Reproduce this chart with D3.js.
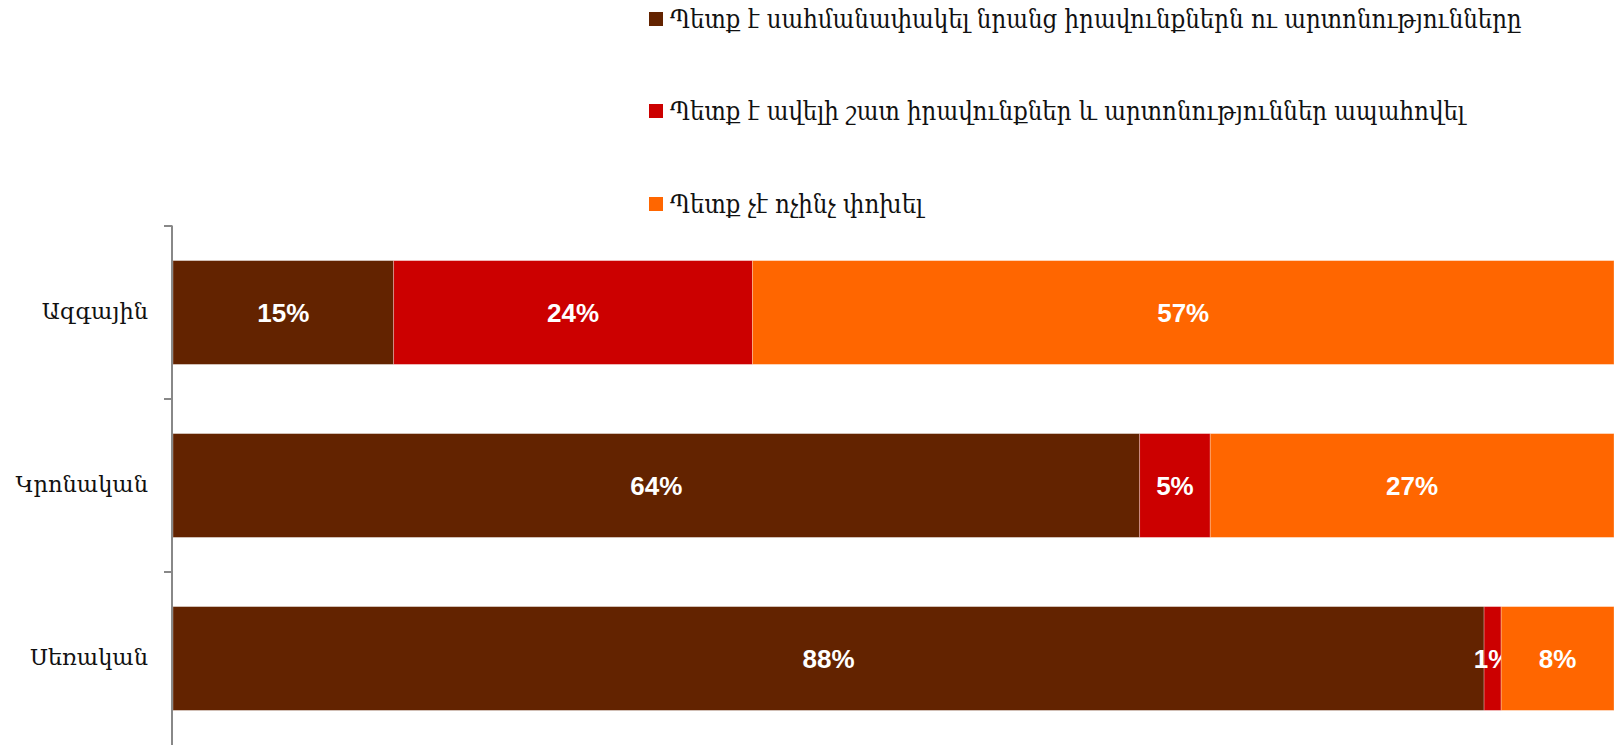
<!DOCTYPE html>
<html><head><meta charset="utf-8">
<script src="https://cdn.jsdelivr.net/npm/d3@7"></script>
<style>body{margin:0;background:#fff}svg{display:block}</style>
</head><body>
<svg id="c" width="1619" height="745"></svg>
<script>
const categories = ["Ազգային", "Կրոնական", "Սեռական"];
const seriesNames = [
  "Պետք է սահմանափակել նրանց իրավունքներն ու արտոնությունները",
  "Պետք է ավելի շատ իրավունքներ և արտոնություններ ապահովել",
  "Պետք չէ ոչինչ փոխել"
];
const restrict = [14.7, 64.4, 88.3];
const moreRights = [23.9, 4.7, 1.15];
const noChange = [57.4, 26.9, 7.6];
const colors = ["#632300", "#CC0000", "#FF6600"];

const svg = d3.select("#c");
const fmt = d3.format(".0f");
const rows = categories.map((c, i) => ({cat: c, s0: restrict[i], s1: moreRights[i], s2: noChange[i]}));
const keys = ["s0", "s1", "s2"];
const stack = d3.stack().keys(keys).offset(d3.stackOffsetExpand)(rows);

const x = d3.scaleLinear().domain([0, 1]).range([173, 1614]);
const y = d3.scaleBand().domain(categories).range([226, 745]).paddingInner(0.4).paddingOuter(0.2);

// bars
stack.forEach((layer, li) => {
  const g = svg.append("g");
  g.selectAll("rect").data(layer).join("rect")
    .attr("x", d => x(d[0]))
    .attr("y", d => y(d.data.cat))
    .attr("width", d => x(d[1]) - x(d[0]))
    .attr("height", y.bandwidth())
    .attr("fill", colors[li])
    .attr("stroke", "rgba(255,255,255,0.35)")
    .attr("stroke-width", 0.8);
  g.selectAll("text").data(layer).join("text")
    .attr("x", d => (x(d[0]) + x(d[1])) / 2)
    .attr("y", d => y(d.data.cat) + y.bandwidth() / 2)
    .attr("dy", "0.38em")
    .attr("text-anchor", "middle")
    .attr("fill", "#fff")
    .attr("font-family", "Liberation Sans, Arial, sans-serif")
    .attr("font-weight", "bold")
    .attr("font-size", 26)
    .text(d => fmt(d.data[keys[li]]) + "%");
});

// axis
const ax = svg.append("g");
ax.append("line").attr("x1", 172).attr("x2", 172).attr("y1", 225.5).attr("y2", 745)
  .attr("stroke", "#888").attr("stroke-width", 2);
const tickYs = categories.map(c => y(c) - y.step() * y.paddingOuter());
ax.selectAll("line.t").data(tickYs).join("line").attr("class", "t")
  .attr("x1", 164).attr("x2", 172).attr("y1", d => d).attr("y2", d => d)
  .attr("stroke", "#888").attr("stroke-width", 2);
ax.selectAll("text").data(categories).join("text")
  .attr("x", 148)
  .attr("y", d => y(d) + y.bandwidth() / 2)
  .attr("dy", "0.3em")
  .attr("text-anchor", "end")
  .attr("font-family", "DejaVu Serif, serif")
  .attr("font-size", 22.5)
  .attr("fill", "#111")
  .text(d => d);

// legend
const lg = svg.append("g");
const legY = [19, 111, 204];
seriesNames.forEach((n, i) => {
  lg.append("rect").attr("x", 649).attr("y", legY[i] - 7).attr("width", 14).attr("height", 14).attr("fill", colors[i]);
  lg.append("text").attr("x", 670).attr("y", legY[i]).attr("dy", "0.35em")
    .attr("font-family", "DejaVu Serif Condensed, DejaVu Serif, serif")
    .attr("font-stretch", "condensed")
    .attr("font-size", 25.5)
    .attr("fill", "#111")
    .text(n);
});
</script>
</body></html>
